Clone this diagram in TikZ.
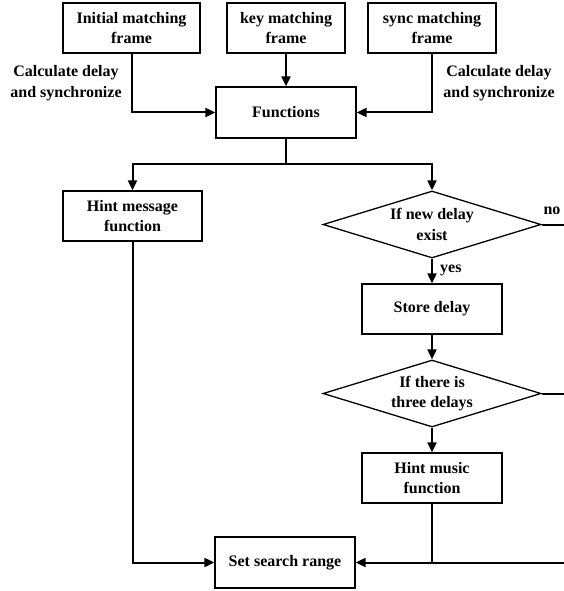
\documentclass[tikz,border=0pt]{standalone}
\usepackage{fontspec}
\setmainfont{Liberation Serif}
\usetikzlibrary{arrows.meta,shapes.geometric}
\begin{document}
\begin{tikzpicture}[x=1pt,y=-1pt,
  txt/.style={align=center,inner sep=0pt,font=\fontsize{16}{20.5}\selectfont\bfseries},
  box/.style={txt,draw,line width=1.3pt,rectangle},
  dia/.style={txt,draw,line width=1.3pt,diamond,aspect=3.25,minimum width=218pt,minimum height=67pt},
  conn/.style={line width=2pt},
  arr/.style={conn,-{Triangle[length=10pt,width=9pt]}}]
\useasboundingbox (0,0) rectangle (563,591);
\node[box,minimum width=137pt,minimum height=50pt] (init) at (131.5,28) {Initial matching\\frame};
\node[box,minimum width=118pt,minimum height=50pt] (key) at (286,28) {key matching\\frame};
\node[box,minimum width=128pt,minimum height=50pt] (sync) at (432,28) {sync matching\\frame};
\node[box,minimum width=140pt,minimum height=51pt] (fun) at (286,112.5) {Functions};
\node[txt] (l1) at (66,83) {Calculate delay\\and synchronize};
\node[txt] (l2) at (499,83) {Calculate delay\\and synchronize};
\node[box,minimum width=139pt,minimum height=50pt] (hmsg) at (132.5,216) {Hint message\\function};
\node[dia] (d1) at (432,224.5) {If new delay\\exist};
\node[box,minimum width=140pt,minimum height=50pt] (store) at (432,309) {Store delay};
\node[dia] (d2) at (432,393.5) {If there is\\three delays};
\node[box,minimum width=140pt,minimum height=50pt] (hmus) at (432,478) {Hint music\\function};
\node[box,minimum width=140pt,minimum height=51pt] (set) at (285,562.5) {Set search range};
\node[txt] (no) at (552,211) {no};
\node[txt,anchor=west] (yes) at (440,270) {yes};
\coordinate (split) at (286,164);
\coordinate (rt1) at (566,224.5);
\coordinate (rt2) at (566,562.5);
\draw[arr] (init.south) |- (fun.west);
\draw[arr] (key.south) -- (fun.north);
\draw[arr] (sync.south) |- (fun.east);
\draw[conn] (fun.south) -- (split);
\draw[arr] (split) -| (hmsg.north);
\draw[arr] (split) -| (d1.north);
\draw[arr] (hmsg.south) |- (set.west);
\draw[arr] (d1.south) -- (store.north);
\draw[arr] (store.south) -- (d2.north);
\draw[arr] (d2.south) -- (hmus.north);
\draw[conn] (hmus.south) -- (hmus.south |- set.east);
\draw[conn] (d1.east) -- (rt1) -- (rt2);
\draw[conn] (d2.east) -- (d2.east -| rt1);
\draw[arr] (rt2) -- (set.east);
\end{tikzpicture}
\end{document}
